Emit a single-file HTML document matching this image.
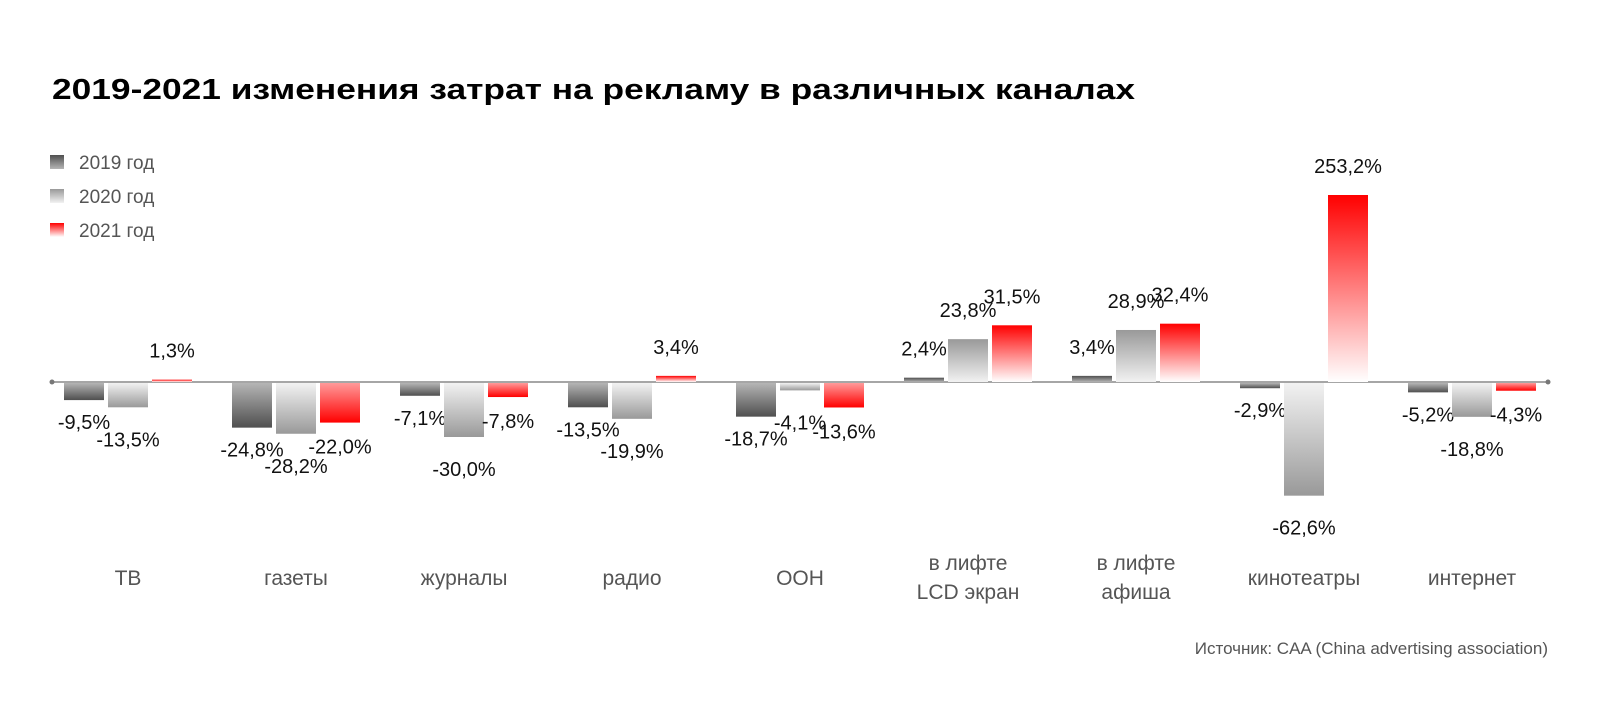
<!DOCTYPE html>
<html><head><meta charset="utf-8"><style>
html,body{margin:0;padding:0;background:#fff;}
svg{display:block;font-family:"Liberation Sans",sans-serif;}
</style></head><body>
<svg id="chart" width="1600" height="706" viewBox="0 0 1600 706" xmlns="http://www.w3.org/2000/svg">
<defs>
<linearGradient id="g0p" x1="0" y1="0" x2="0" y2="1"><stop offset="0" stop-color="#4f4f4f"/><stop offset="1" stop-color="#b5b5b5"/></linearGradient>
<linearGradient id="g0n" x1="0" y1="0" x2="0" y2="1"><stop offset="0" stop-color="#b5b5b5"/><stop offset="1" stop-color="#4f4f4f"/></linearGradient>
<linearGradient id="g1p" x1="0" y1="0" x2="0" y2="1"><stop offset="0" stop-color="#999"/><stop offset="1" stop-color="#f2f2f2"/></linearGradient>
<linearGradient id="g1n" x1="0" y1="0" x2="0" y2="1"><stop offset="0" stop-color="#f2f2f2"/><stop offset="1" stop-color="#999"/></linearGradient>
<linearGradient id="g2p" x1="0" y1="0" x2="0" y2="1"><stop offset="0" stop-color="#ff0000"/><stop offset="1" stop-color="#ffffff"/></linearGradient>
<linearGradient id="g2n" x1="0" y1="0" x2="0" y2="1"><stop offset="0" stop-color="#ff9a9a"/><stop offset="1" stop-color="#ff0000"/></linearGradient>
</defs>
<text x="52" y="99" font-size="29" font-weight="bold" fill="#000" textLength="1083" lengthAdjust="spacingAndGlyphs">2019-2021 изменения затрат на рекламу в различных каналах</text>
<g>
<rect x="50" y="155" width="14" height="14" fill="url(#g0p)"/>
<text x="79" y="169" font-size="19" fill="#555">2019 год</text>
<rect x="50" y="189" width="14" height="14" fill="url(#g1p)"/>
<text x="79" y="203" font-size="19" fill="#555">2020 год</text>
<rect x="50" y="223" width="14" height="14" fill="url(#g2p)"/>
<text x="79" y="237" font-size="19" fill="#555">2021 год</text>
</g>
<line x1="52" y1="382" x2="1548" y2="382" stroke="#888" stroke-width="1.5"/>
<circle cx="52" cy="382" r="2.5" fill="#777"/>
<circle cx="1548" cy="382" r="2.5" fill="#777"/>
<g id="bars"></g>
<text x="1548" y="654" font-size="17" fill="#555" text-anchor="end">Источник: CAA (China advertising association)</text>
</svg>
<script>
const categories = [["ТВ"],["газеты"],["журналы"],["радио"],["OOH"],["в лифте","LCD экран"],["в лифте","афиша"],["кинотеатры"],["интернет"]];
const values2019 = [-9.5,-24.8,-7.1,-13.5,-18.7,2.4,3.4,-2.9,-5.2];
const values2020 = [-13.5,-28.2,-30.0,-19.9,-4.1,23.8,28.9,-62.6,-18.8];
const values2021 = [1.3,-22.0,-7.8,3.4,-13.6,31.5,32.4,253.2,-4.3];
const series = [values2019, values2020, values2021];

const NS = "http://www.w3.org/2000/svg";
const g = document.getElementById('bars');
const baseY = 382, pxPer = 1.8, maxH = 187;
function xCenter(i){ return 128 + i*168; }
function barH(v){ return Math.min(Math.abs(v)*pxPer, maxH); }
function fmt(v){ return v.toFixed(1).replace('.', ',') + '%'; }
const negOff = [22, 32, 24];

categories.forEach((cat, i) => {
  const cx = xCenter(i);
  series.forEach((vals, s) => {
    const v = vals[i];
    const h = barH(v);
    const bx = cx - 64 + s*44;
    const r = document.createElementNS(NS, 'rect');
    
    
    r.setAttribute('x', bx);
    r.setAttribute('width', 40);
    r.setAttribute('y', v >= 0 ? baseY - h : baseY + 1);
    r.setAttribute('height', Math.max(h, 1));
    r.setAttribute('fill', 'url(#g' + s + (v >= 0 ? 'p' : 'n') + ')');
    g.appendChild(r);
    const t = document.createElementNS(NS, 'text');
    
    
    t.setAttribute('x', bx + 20);
    t.setAttribute('y', v >= 0 ? baseY - h - 30 + 8 : baseY + h + negOff[s] + 8);
    t.setAttribute('font-size', '20');
    t.setAttribute('fill', '#111');
    t.setAttribute('text-anchor', 'middle');
    t.textContent = fmt(v);
    g.appendChild(t);
  });
  const single = cat.length === 1;
  cat.forEach((line, k) => {
    const t = document.createElementNS(NS, 'text');
    
    
    t.setAttribute('x', cx);
    t.setAttribute('y', single ? 585 : 570 + k*29);
    t.setAttribute('font-size', '21');
    t.setAttribute('fill', '#555');
    t.setAttribute('text-anchor', 'middle');
    t.textContent = line;
    g.appendChild(t);
  });
});
</script>
</body></html>
